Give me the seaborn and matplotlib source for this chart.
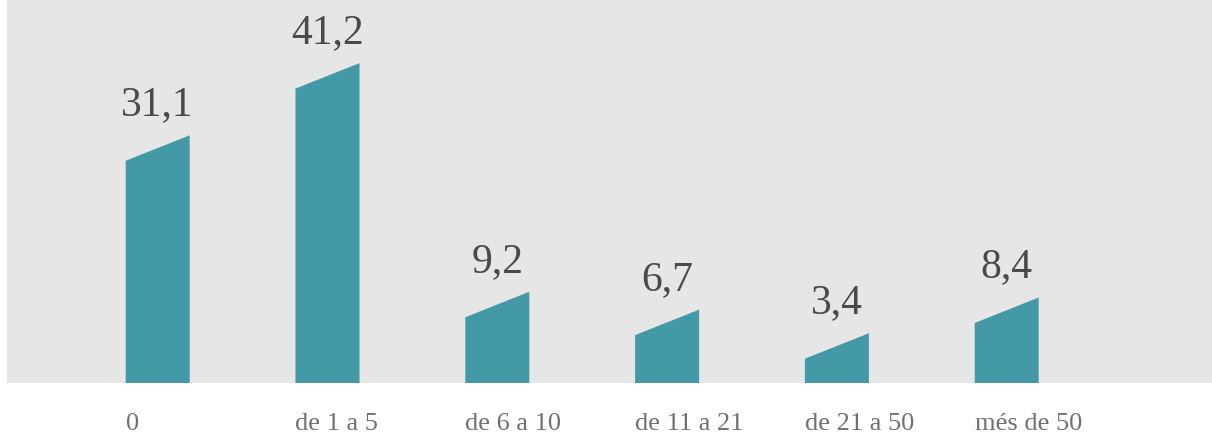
import matplotlib
matplotlib.use('Agg')
import matplotlib.pyplot as plt
import seaborn as sns
import pandas as pd
import numpy as np
from matplotlib.patches import Polygon

categories = ["0", "de 1 a 5", "de 6 a 10", "de 11 a 21", "de 21 a 50", "més de 50"]
values = [31.1, 41.2, 9.2, 6.7, 3.4, 8.4]
value_labels = ["31,1", "41,2", "9,2", "6,7", "3,4", "8,4"]

BAR_COLOR = "#4499a7"
BG = "#e6e6e6"

sns.set_theme(style="white")
plt.rcParams['font.family'] = ['Liberation Serif', 'DejaVu Serif']

W, H = 1212, 434
fig = plt.figure(figsize=(W / 100, H / 100), dpi=100)
ax = fig.add_axes([7 / W, 51 / H, 1205 / W, 383 / H])
df = pd.DataFrame({"cat": categories, "val": values})
bw = 0.377
sns.barplot(data=df, x="cat", y="val", color=BAR_COLOR, width=bw,
            saturation=1, ax=ax, order=categories)
ax.set_facecolor(BG)
ax.set_xlim(-0.8875, 6.209)
ax.set_ylim(0, 53.6)
for s in ax.spines.values():
    s.set_visible(False)

# slant of bar top (pixels -> data units)
px_per_unit = 383 / 53.6
slant = 25.5 / px_per_unit

for p, lab in zip(list(ax.patches), value_labels):
    x0, w, h = p.get_x(), p.get_width(), p.get_height()
    poly = Polygon([(x0, 0), (x0 + w, 0), (x0 + w, h + slant), (x0, h)],
                   closed=True, facecolor=BAR_COLOR, edgecolor='none')
    p.set_visible(False)
    ax.add_patch(poly)
    ax.annotate(lab, (x0 + w / 2, h + slant), xytext=(0, 20),
                textcoords='offset pixels', ha='center', va='baseline',
                fontsize=30, color='#4a4a4a')

ax.set_xticks(np.arange(len(categories)) - bw / 2)
ax.set_xticklabels(categories, ha='left', fontsize=19, color='#707070')
ax.tick_params(axis='x', length=0, pad=21.5)
ax.set_yticks([])
ax.set_xlabel("")
ax.set_ylabel("")

fig.savefig("out.png", dpi=100, facecolor='white')
